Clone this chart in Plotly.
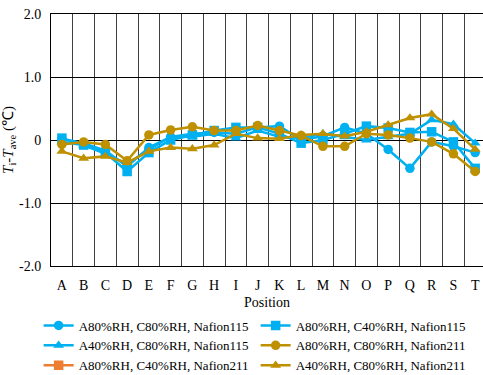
import plotly.graph_objects as go

positions = list("ABCDEFGHIJKLMNOPQRST")

# Temperature deviation from the cell average at each position (°C)
a80_c80_n115 = [0.02, -0.05, -0.17, -0.42, -0.12, 0.05, 0.10, 0.12, 0.10, 0.20,
                0.22, 0.00, 0.06, 0.20, 0.10, -0.15, -0.45, -0.03, -0.10, -0.20]
a80_c40_n115 = [0.03, -0.08, -0.20, -0.50, -0.20, 0.00, 0.08, 0.15, 0.20, 0.20,
                0.10, -0.05, 0.00, 0.10, 0.22, 0.19, 0.12, 0.13, -0.03, -0.45]
a40_c80_n115 = [-0.03, -0.08, -0.22, -0.38, -0.15, 0.05, 0.05, 0.10, 0.03, 0.15,
                0.05, 0.03, 0.10, 0.05, 0.00, 0.05, 0.10, 0.32, 0.25, -0.05]
a80_c80_n211 = [-0.07, -0.03, -0.07, -0.33, 0.08, 0.16, 0.21, 0.15, 0.15, 0.23,
                0.15, 0.07, -0.10, -0.10, 0.10, 0.08, 0.03, -0.03, -0.22, -0.50]
a80_c40_n211 = [None] * 20
a40_c80_n211 = [-0.18, -0.29, -0.26, -0.36, -0.18, -0.12, -0.14, -0.08, 0.10, 0.03,
                0.02, 0.08, 0.10, 0.06, 0.13, 0.24, 0.35, 0.41, 0.18, -0.15]

blue = "#00B0F0"
gold = "#BF9000"
orange = "#ED7D31"

series = [
    ("A80%RH, C80%RH, Nafion115", a80_c80_n115, blue, "circle"),
    ("A80%RH, C40%RH, Nafion115", a80_c40_n115, blue, "square"),
    ("A40%RH, C80%RH, Nafion115", a40_c80_n115, blue, "triangle-up"),
    ("A80%RH, C80%RH, Nafion211", a80_c80_n211, gold, "circle"),
    ("A80%RH, C40%RH, Nafion211", a80_c40_n211, orange, "square"),
    ("A40%RH, C80%RH, Nafion211", a40_c80_n211, gold, "triangle-up"),
]

font = "Liberation Serif"

fig = go.Figure()
for name, vals, color, sym in series:
    fig.add_trace(go.Scatter(
        x=positions, y=vals, name=name, mode="lines+markers",
        line=dict(color=color, width=2.5),
        marker=dict(symbol=sym, size=9.5, color=color),
    ))

fig.update_layout(
    width=483, height=375,
    margin=dict(l=51, r=0, t=14, b=109),
    paper_bgcolor="white", plot_bgcolor="white",
    font=dict(family=font, size=13, color="black"),
    showlegend=True,
    legend=dict(
        orientation="h", xref="container", yref="container",
        x=0.08, y=0.172, xanchor="left", yanchor="top",
        entrywidth=172, entrywidthmode="pixels",
        font=dict(family=font, size=13, color="black"),
        tracegroupgap=0,
        bgcolor="rgba(0,0,0,0)",
    ),
    xaxis=dict(
        type="category", range=[-0.5, 19.36],
        tickson="boundaries", ticks="", showgrid=True,
        gridcolor="#404040", gridwidth=1,
        showline=True, linecolor="black", linewidth=1, mirror=True,
        ticklabelstandoff=6,
        title=dict(text="Position", standoff=6, font=dict(family=font, size=14)),
        tickfont=dict(family=font, size=14),
    ),
    yaxis=dict(
        range=[-2, 2],
        tickvals=[-2, -1, 0, 1, 2],
        ticktext=["-2.0", "-1.0", "0", "1.0", "2.0"],
        showgrid=True, gridcolor="black", gridwidth=1,
        zeroline=True, zerolinecolor="black", zerolinewidth=1,
        showline=True, linecolor="black", linewidth=1,
        ticks="", ticklen=0, ticklabelstandoff=6,
        title=dict(text="<i>T</i><sub>i</sub>-<i>T</i><sub>ave</sub> (℃)",
                   standoff=4, font=dict(family=font, size=15)),
        tickfont=dict(family=font, size=14),
    ),
)

fig.write_html("out.html")
